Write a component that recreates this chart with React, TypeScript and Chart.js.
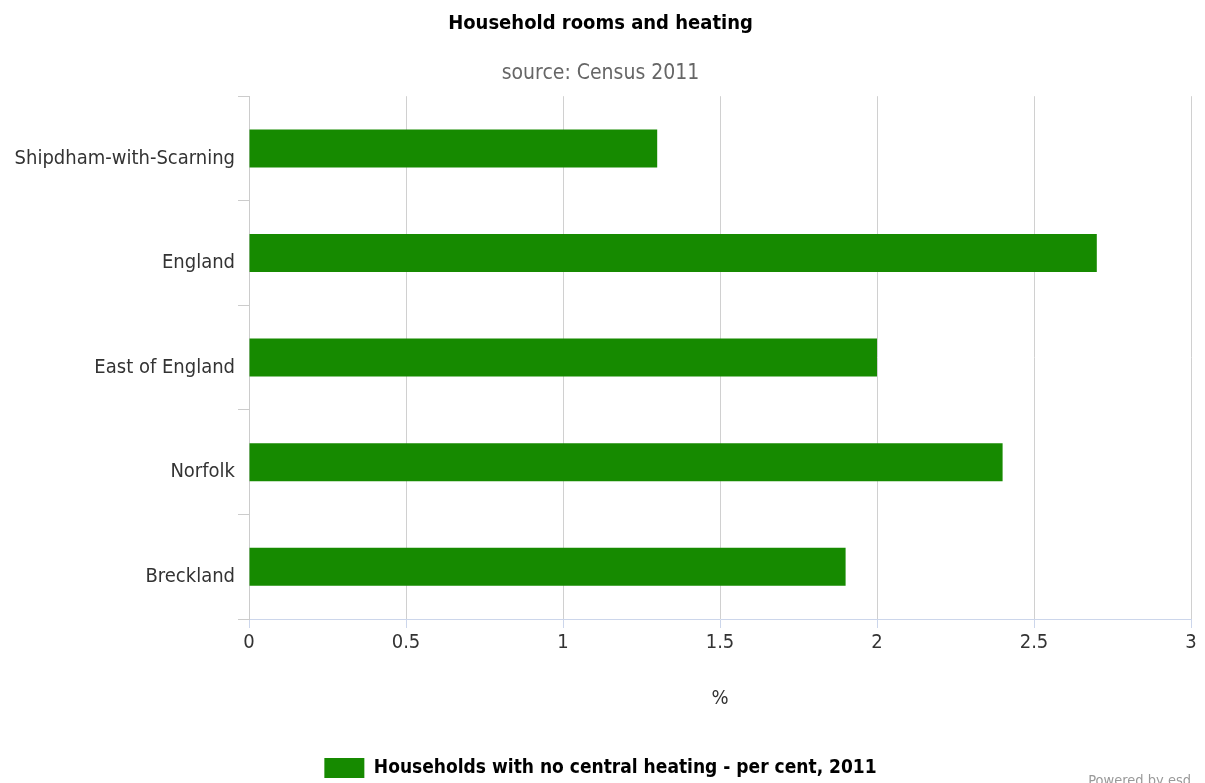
import React, { useEffect, useRef } from "react";
import { Chart, registerables } from "chart.js";

Chart.register(...registerables);

const categories = ["Shipdham-with-Scarning", "England", "East of England", "Norfolk", "Breckland"];
const seriesLabel = "Households with no central heating - per cent, 2011";
const values = [1.3, 2.7, 2.0, 2.4, 1.9];
const titleText = "Household rooms and heating";
const subtitleText = "source: Census 2011";
const xAxisTitle = "%";
const xMin = 0;
const xMax = 3;
const xStep = 0.5;

const FONT = "'DejaVu Sans Condensed', 'DejaVu Sans', sans-serif";

export default function App() {
  const ref = useRef<HTMLCanvasElement | null>(null);
  useEffect(() => {
    document.body.style.margin = "0";
    if (!ref.current) return;
    const chart = new Chart(ref.current, {
      type: "bar",
      data: {
        labels: categories,
        datasets: [
          {
            label: seriesLabel,
            data: values,
            backgroundColor: "#168a00",
            borderWidth: 0,
            barPercentage: 0.363,
            categoryPercentage: 1,
          },
        ],
      },
      options: {
        indexAxis: "y",
        animation: false,
        responsive: false,
        maintainAspectRatio: false,
        layout: { padding: { left: 10, right: 14, top: 0, bottom: -5 } },
        plugins: {
          title: {
            display: true,
            text: titleText,
            color: "#000",
            font: { family: FONT, size: 20, weight: "bold" },
            padding: { top: 12, bottom: 25 },
          },
          subtitle: {
            display: true,
            text: subtitleText,
            color: "#666",
            font: { family: FONT, size: 21 },
            padding: { top: 0, bottom: 10 },
          },
          legend: {
            position: "bottom",
            labels: {
              boxWidth: 40,
              boxHeight: 20,
              color: "#000",
              font: { family: FONT, size: 19, weight: "bold" },
              padding: 0,
            },
          },
          tooltip: { enabled: false },
        },
        scales: {
          x: {
            min: xMin,
            max: xMax,
            ticks: {
              stepSize: xStep,
              color: "#333",
              font: { family: FONT, size: 20 },
              padding: 3,
              callback: (v: any) => String(Number(v)),
            },
            grid: { color: "#d0d0d0", tickColor: "#ccd6eb", tickLength: 9 },
            border: { color: "#ccd6eb" },
            title: {
              display: true,
              text: xAxisTitle,
              color: "#333",
              font: { family: FONT, size: 20 },
              padding: { top: 29, bottom: 47 },
            },
          },
          y: {
            ticks: {
              color: "#333",
              font: { family: FONT, size: 20 },
              padding: 3,
              labelOffset: 10,
            },
            grid: { drawOnChartArea: false, color: "#ccc", tickLength: 11, offset: true },
            border: { color: "#ccc" },
            afterFit: (scale: any) => {
              scale.width = 239;
            },
          },
        },
      },
    });
    return () => chart.destroy();
  }, []);
  return (
    <div style={{ position: "relative", width: 1205, height: 783, overflow: "hidden", background: "#fff" }}>
      <canvas ref={ref} width={1205} height={783} style={{ display: "block" }} />
      <div
        style={{
          position: "absolute",
          right: 14,
          top: 772,
          fontFamily: FONT,
          fontSize: 14.5,
          color: "#999",
          whiteSpace: "nowrap",
        }}
      >
        Powered by esd
      </div>
    </div>
  );
}
